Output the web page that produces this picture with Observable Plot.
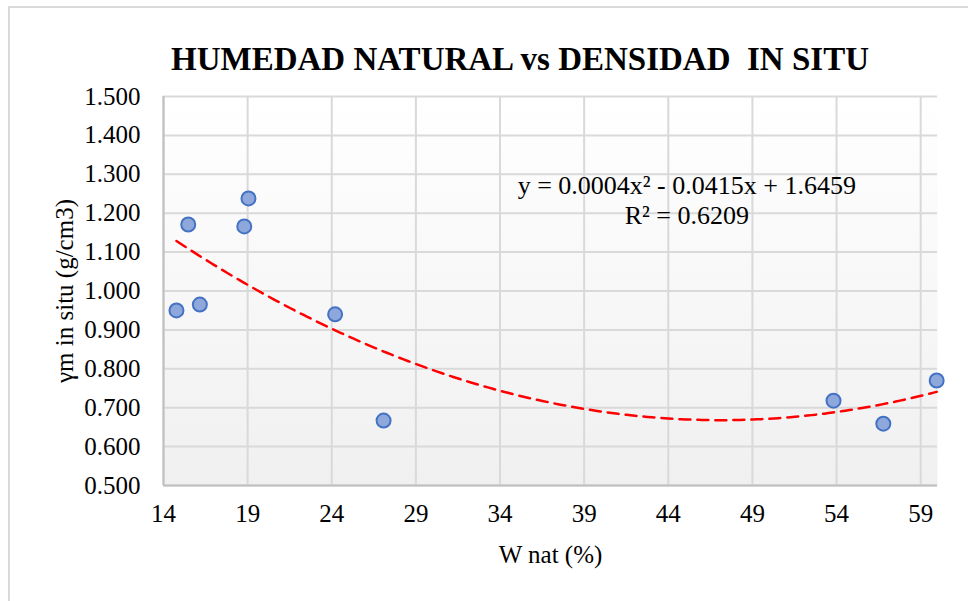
<!DOCTYPE html>
<html>
<head>
<meta charset="utf-8">
<script src="https://cdn.jsdelivr.net/npm/d3@7"></script>
<script src="https://cdn.jsdelivr.net/npm/@observablehq/plot@0.6"></script>
<style>
  html, body { margin: 0; padding: 0; background: #fff; }
  #wrap { position: relative; width: 968px; height: 601px; overflow: hidden; font-family: "Liberation Serif", "Times New Roman", serif; }
  #border { position: absolute; left: 8px; top: 6px; width: 1000px; height: 700px; border-left: 2px solid #d9d9d9; border-top: 2px solid #d9d9d9; }
  #title { position: absolute; left: 0; top: 39px; width: 1040px; text-align: center; font-weight: bold; font-size: 33px; line-height: 40px; white-space: pre; color: #000; }
  #chart { position: absolute; left: 0; top: 80px; }
</style>
</head>
<body>
<div id="wrap">
  <div id="border"></div>
  <div id="title"></div>
  <div id="chart"></div>
</div>
<script>
const titleText = "HUMEDAD NATURAL vs DENSIDAD  IN SITU";
const xLabel = "W nat (%)";
const yLabel = "γm in situ (g/cm3)";
const wNat = [14.77, 15.47, 16.16, 18.8, 19.05, 24.2, 27.08, 53.82, 56.78, 59.95];
const gammaM = [0.950, 1.171, 0.965, 1.166, 1.238, 0.940, 0.667, 0.718, 0.659, 0.770];
const xTicks = [14, 19, 24, 29, 34, 39, 44, 49, 54, 59];
const yTicks = [0.5, 0.6, 0.7, 0.8, 0.9, 1.0, 1.1, 1.2, 1.3, 1.4, 1.5];
const eqLines = ["y = 0.0004x² - 0.0415x + 1.6459", "R² = 0.6209"];

document.getElementById("title").textContent = titleText;

const points = wNat.map((x, i) => ({x, y: gammaM[i]}));

// Polynomial (order 2) least-squares trendline, as the spreadsheet computes it
function polyFit2(xs, ys) {
  const S = k => d3.sum(xs, x => x ** k);
  const T = k => d3.sum(xs, (x, i) => ys[i] * x ** k);
  const A = [[S(0), S(1), S(2)], [S(1), S(2), S(3)], [S(2), S(3), S(4)]];
  const B = [T(0), T(1), T(2)];
  for (let i = 0; i < 3; i++) {
    for (let j = i + 1; j < 3; j++) {
      const f = A[j][i] / A[i][i];
      for (let k = i; k < 3; k++) A[j][k] -= f * A[i][k];
      B[j] -= f * B[i];
    }
  }
  const c = [0, 0, 0];
  for (let i = 2; i >= 0; i--) {
    let s = B[i];
    for (let k = i + 1; k < 3; k++) s -= A[i][k] * c[k];
    c[i] = s / A[i][i];
  }
  return c;
}
const coef = polyFit2(wNat, gammaM);
const [xmin, xmax] = d3.extent(wNat);
const trendX = d3.range(xmin, xmax, 0.25).concat([xmax]);
const trend = trendX.map(x => ({x, y: coef[0] + coef[1] * x + coef[2] * x * x}));

const plot = Plot.plot({
  width: 968,
  height: 521,
  marginTop: 16,
  marginBottom: 116,
  marginLeft: 163,
  marginRight: 31,
  style: {fontFamily: '"Liberation Serif", "Times New Roman", serif', fontSize: "25px", color: "#000", background: "transparent"},
  x: {domain: [14, 60], ticks: xTicks, tickSize: 0, tickPadding: 19, label: xLabel, labelAnchor: "center", labelOffset: 77, labelArrow: "none"},
  y: {domain: [0.5, 1.5], ticks: yTicks, tickSize: 0, tickPadding: 23, tickFormat: d => d.toFixed(3), label: yLabel, labelAnchor: "center", labelOffset: 108, labelArrow: "none"},
  marks: [
    Plot.frame({fill: "url(#bggrad)", stroke: "none"}),
    Plot.ruleX(xTicks, {stroke: "#d9d9d9", strokeWidth: 2}),
    Plot.ruleY(yTicks, {stroke: "#d9d9d9", strokeWidth: 2}),
    Plot.ruleX([14], {stroke: "#bfbfbf", strokeWidth: 2}),
    Plot.ruleY([0.5], {stroke: "#bfbfbf", strokeWidth: 2}),
    Plot.line(trend, {x: "x", y: "y", stroke: "#ff0000", strokeWidth: 2.5, strokeDasharray: "11,7"}),
    Plot.dot(points, {x: "x", y: "y", r: 7, fill: "#8fa8dc", stroke: "#4472c4", strokeWidth: 2, fillOpacity: 1}),
    Plot.text([eqLines.join("\n")], {x: 45.1, y: 1.236, text: d => d, fontSize: 26, lineHeight: 1.15, textAnchor: "middle", fill: "#000"})
  ]
});

d3.select(plot).insert("defs", ":first-child").html(
  '<linearGradient id="bggrad" x1="0" y1="0" x2="0" y2="1">' +
  '<stop offset="0" stop-color="#ffffff"/><stop offset="1" stop-color="#f0f0f0"/></linearGradient>'
);

document.getElementById("chart").appendChild(plot);
</script>
</body>
</html>
